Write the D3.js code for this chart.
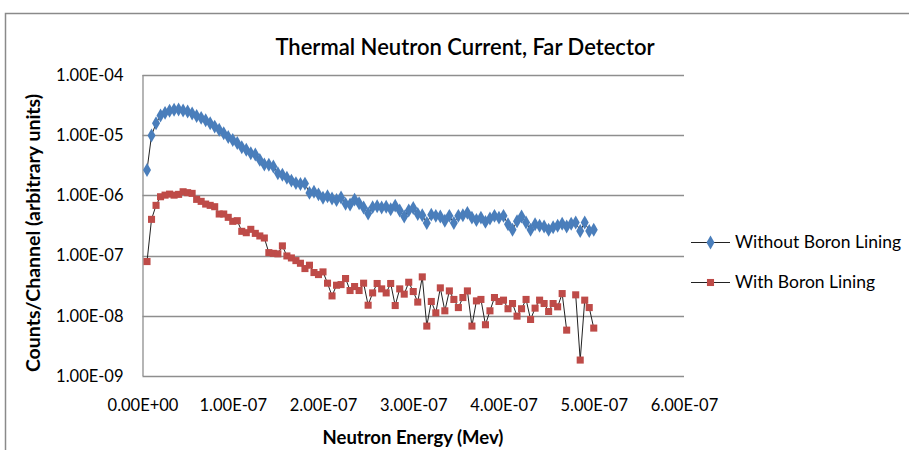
<!DOCTYPE html>
<html>
<head>
<meta charset="utf-8">
<script src="https://cdn.jsdelivr.net/npm/d3@7"></script>
<style>
  html, body { margin: 0; padding: 0; background: #fff; }
  svg { display: block; }
  text { font-family: Lato, "Liberation Sans", Arial, sans-serif; fill: #000; }
</style>
</head>
<body>
<svg id="chart" width="909" height="450"></svg>
<script>
// Neutron energy of each channel (MeV)
const energy = [
  5e-9, 10e-9, 15e-9, 20e-9, 25e-9, 30e-9, 35e-9, 40e-9, 45e-9, 50e-9,
  55e-9, 60e-9, 65e-9, 70e-9, 75e-9, 80e-9, 85e-9, 90e-9, 95e-9, 100e-9,
  105e-9, 110e-9, 115e-9, 120e-9, 125e-9, 130e-9, 135e-9, 140e-9, 145e-9, 150e-9,
  155e-9, 160e-9, 165e-9, 170e-9, 175e-9, 180e-9, 185e-9, 190e-9, 195e-9, 200e-9,
  205e-9, 210e-9, 215e-9, 220e-9, 225e-9, 230e-9, 235e-9, 240e-9, 245e-9, 250e-9,
  255e-9, 260e-9, 265e-9, 270e-9, 275e-9, 280e-9, 285e-9, 290e-9, 295e-9, 300e-9,
  305e-9, 310e-9, 315e-9, 320e-9, 325e-9, 330e-9, 335e-9, 340e-9, 345e-9, 350e-9,
  355e-9, 360e-9, 365e-9, 370e-9, 375e-9, 380e-9, 385e-9, 390e-9, 395e-9, 400e-9,
  405e-9, 410e-9, 415e-9, 420e-9, 425e-9, 430e-9, 435e-9, 440e-9, 445e-9, 450e-9,
  455e-9, 460e-9, 465e-9, 470e-9, 475e-9, 480e-9, 485e-9, 490e-9, 495e-9, 500e-9
];

// Counts per channel, detector without boron lining
const withoutBoron = [
  2.65e-6, 9.86e-6, 1.58e-5, 2.12e-5, 2.35e-5, 2.54e-5, 2.64e-5, 2.67e-5, 2.57e-5, 2.47e-5,
  2.29e-5, 2.09e-5, 1.94e-5, 1.77e-5, 1.58e-5, 1.39e-5, 1.23e-5, 1.08e-5, 9.33e-6, 8.32e-6,
  7.41e-6, 6.31e-6, 5.75e-6, 5.01e-6, 4.79e-6, 3.89e-6, 3.27e-6, 3.24e-6, 3.02e-6, 2.34e-6,
  2.21e-6, 1.97e-6, 1.76e-6, 1.60e-6, 1.55e-6, 1.57e-6, 1.10e-6, 1.15e-6, 1.04e-6, 9.12e-7,
  9.66e-7, 8.91e-7, 8.41e-7, 9.23e-7, 7.24e-7, 7.08e-7, 8.51e-7, 7.41e-7, 6.31e-7, 5.01e-7,
  6.38e-7, 6.61e-7, 6.31e-7, 6.46e-7, 5.89e-7, 6.76e-7, 5.62e-7, 4.47e-7, 5.62e-7, 6.17e-7,
  4.90e-7, 4.68e-7, 3.47e-7, 4.79e-7, 4.57e-7, 4.47e-7, 3.80e-7, 4.57e-7, 3.47e-7, 4.57e-7,
  4.68e-7, 5.13e-7, 4.27e-7, 3.89e-7, 4.27e-7, 3.63e-7, 4.12e-7, 4.57e-7, 4.27e-7, 4.57e-7,
  3.31e-7, 2.69e-7, 3.72e-7, 4.47e-7, 3.55e-7, 2.69e-7, 3.31e-7, 3.13e-7, 3.05e-7, 2.69e-7,
  2.95e-7, 3.13e-7, 3.39e-7, 3.05e-7, 3.39e-7, 3.55e-7, 2.57e-7, 3.55e-7, 2.57e-7, 2.69e-7
];

// Counts per channel, detector with boron lining (one empty channel)
const withBoron = [
  7.96e-8, 4.00e-7, 6.83e-7, 9.50e-7, 1.01e-6, 1.05e-6, 1.01e-6, 1.04e-6, 1.15e-6, 1.11e-6,
  1.08e-6, 8.59e-7, 7.96e-7, 7.18e-7, 6.83e-7, 6.49e-7, 4.91e-7, 4.91e-7, 4.32e-7, 3.71e-7,
  3.80e-7, 2.53e-7, 2.40e-7, 2.73e-7, 2.34e-7, 2.12e-7, 1.96e-7, 1.12e-7, 1.09e-7, 1.07e-7,
  1.45e-7, 9.87e-8, 9.14e-8, 8.26e-8, 7.46e-8, 6.09e-8, 6.92e-8, 5.23e-8, 4.84e-8, 5.36e-8,
  3.48e-8, 2.14e-8, 3.22e-8, 3.30e-8, 4.16e-8, 2.63e-8, 3.06e-8, 2.63e-8, 3.48e-8, 1.50e-8,
  2.40e-8, 3.44e-8, 2.80e-8, 2.40e-8, 3.44e-8, 1.48e-8, 2.80e-8, 2.29e-8, 3.61e-8, 2.53e-8,
  1.69e-8, 4.43e-8, 6.75e-9, 1.73e-8, 1.12e-8, 2.91e-8, 1.21e-8, 2.59e-8, 1.87e-8, 1.37e-8,
  2.01e-8, 2.59e-8, 6.75e-9, 1.77e-8, 1.87e-8, 7.10e-9, 1.21e-8, 2.01e-8, 1.73e-8, 1.82e-8,
  1.31e-8, 1.60e-8, 9.87e-9, 1.31e-8, 1.87e-8, 8.69e-9, 1.34e-8, 1.82e-8, 1.60e-8, 1.18e-8,
  1.60e-8, 1.41e-8, 2.34e-8, 5.78e-9, null, 2.23e-8, 1.84e-9, 1.82e-8, 1.37e-8, 6.25e-9
];

const seriesNames = ["Without Boron Lining", "With Boron Lining"];
const xTicks = [0, 1e-7, 2e-7, 3e-7, 4e-7, 5e-7, 6e-7];
const yTicks = [1e-9, 1e-8, 1e-7, 1e-6, 1e-5, 1e-4];

const titleText = "Thermal Neutron Current, Far Detector";
const xTitle = "Neutron Energy (Mev)";
const yTitle = "Counts/Channel (arbitrary units)";

// Spreadsheet-style scientific notation: 1.00E-07, 0.00E+00
function sci(v) {
  if (v === 0) return "0.00E+00";
  const e = Math.floor(Math.log10(Math.abs(v)) + 1e-9);
  const m = v / Math.pow(10, e);
  const sign = e < 0 ? "-" : "+";
  const ae = Math.abs(e);
  return m.toFixed(2) + "E" + sign + (ae < 10 ? "0" + ae : ae);
}

const svg = d3.select("#chart");
const plot = { left: 142.5, right: 684, top: 75, bottom: 376 };
const gridColor = "#8e8e8e";
const blue = "#4a7ebb";
const red = "#be4b48";
const font = "Lato, 'Liberation Sans', sans-serif";

// chart area border
svg.append("rect")
  .attr("x", 5.5).attr("y", 13.5)
  .attr("width", 920).attr("height", 460)
  .attr("fill", "none").attr("stroke", "#8a8a8a").attr("stroke-width", 1.5);

const x = d3.scaleLinear().domain([0, 6e-7]).range([plot.left, plot.right]);
const y = d3.scaleLog().domain([1e-9, 1e-4]).range([plot.bottom, plot.top]);

// horizontal gridlines
svg.append("g").selectAll("line")
  .data(yTicks.slice(1))
  .join("line")
  .attr("x1", plot.left).attr("x2", plot.right)
  .attr("y1", d => Math.round(y(d)) + 0.5).attr("y2", d => Math.round(y(d)) + 0.5)
  .attr("stroke", gridColor).attr("stroke-width", 1.3);

// axes
const yAxis = d3.axisLeft(y).tickValues(yTicks).tickFormat(sci).tickSize(0).tickPadding(19);
const gy = svg.append("g").attr("transform", `translate(${plot.left},0)`).call(yAxis);
gy.select(".domain").remove();
gy.selectAll("text").style("font-size", "16.5px").style("font-family", font).attr("fill", "#000");

const xAxis = d3.axisBottom(x).tickValues(xTicks).tickFormat(sci).tickSize(0).tickPadding(23);
const gx = svg.append("g").attr("transform", `translate(0,${plot.bottom})`).call(xAxis);
gx.select(".domain").remove();
gx.selectAll("text").style("font-size", "16.5px").style("font-family", font).attr("fill", "#000");

svg.append("line")
  .attr("x1", plot.left + 0.5).attr("x2", plot.left + 0.5)
  .attr("y1", plot.top).attr("y2", plot.bottom)
  .attr("stroke", gridColor).attr("stroke-width", 1.3);
svg.append("line")
  .attr("x1", plot.left).attr("x2", plot.right)
  .attr("y1", plot.bottom + 0.5).attr("y2", plot.bottom + 0.5)
  .attr("stroke", gridColor).attr("stroke-width", 1.3);

// titles
svg.append("text")
  .attr("x", 465).attr("y", 55)
  .attr("text-anchor", "middle")
  .style("font-size", "22px").style("font-weight", "600")
  .text(titleText);

svg.append("text")
  .attr("x", 413).attr("y", 444)
  .attr("text-anchor", "middle")
  .style("font-size", "18.5px").style("font-weight", "bold")
  .text(xTitle);

svg.append("text")
  .attr("transform", "translate(40,233) rotate(-90)")
  .attr("text-anchor", "middle")
  .style("font-size", "19.5px").style("font-weight", "bold")
  .text(yTitle);

// series
const series = [
  { name: seriesNames[0], values: withoutBoron, color: blue, shape: d3.symbolDiamond, size: 56 },
  { name: seriesNames[1], values: withBoron, color: red, shape: d3.symbolSquare, size: 50 }
];

const line = d3.line()
  .defined(d => d[1] != null && d[1] > 0)
  .x(d => x(d[0]))
  .y(d => y(d[1]));

series.forEach(s => {
  const pts = energy.map((e, i) => [e, s.values[i]]);
  svg.append("path")
    .datum(pts)
    .attr("d", line)
    .attr("fill", "none")
    .attr("stroke", "#222")
    .attr("stroke-width", 1);
  svg.append("g").selectAll("path")
    .data(pts.filter(d => d[1] != null && d[1] > 0))
    .join("path")
    .attr("transform", d => `translate(${x(d[0])},${y(d[1])})`)
    .attr("d", d3.symbol().type(s.shape).size(s.size))
    .attr("fill", s.color);
});

// legend
const legend = svg.append("g");
const legendY = [242, 282];
series.forEach((s, i) => {
  const g = legend.append("g").attr("transform", `translate(0,${legendY[i]})`);
  g.append("line").attr("x1", 691).attr("x2", 730).attr("y1", 0.5).attr("y2", 0.5)
    .attr("stroke", "#222").attr("stroke-width", 1);
  g.append("path").attr("transform", "translate(710.5,0.5)")
    .attr("d", d3.symbol().type(s.shape).size(s.size)).attr("fill", s.color);
  g.append("text").attr("x", 735).attr("y", 6)
    .style("font-size", "17.5px").text(s.name);
});
</script>
</body>
</html>
